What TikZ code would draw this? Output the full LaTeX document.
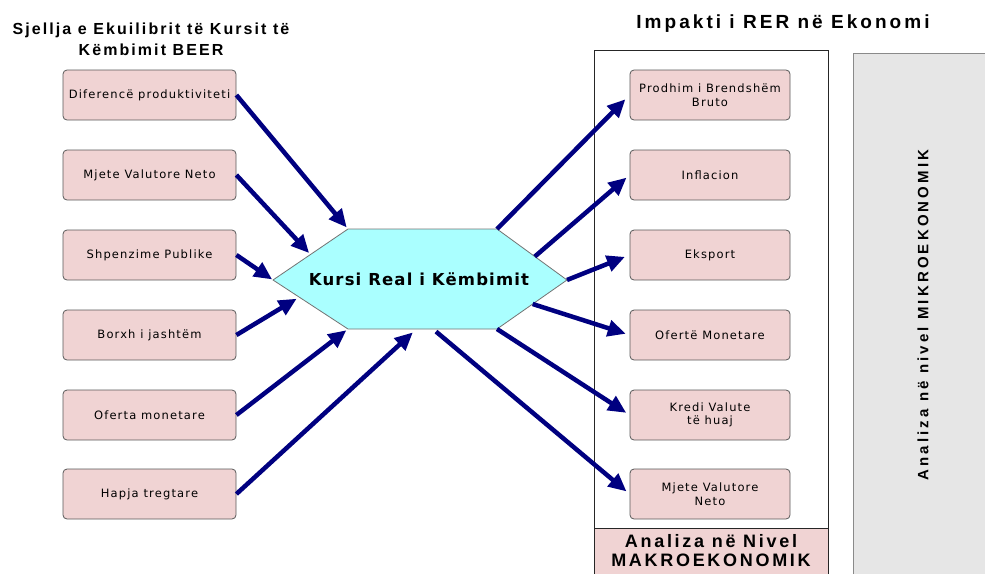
\documentclass[tikz,border=0pt]{standalone}
\usepackage{fontspec}
\setmainfont{Liberation Sans}
\newfontfamily\boxfont{DejaVu Sans}
\usetikzlibrary{arrows.meta, calc, positioning}

\definecolor{boxpink}{RGB}{240,211,211}
\definecolor{hexcyan}{RGB}{170,255,255}
\definecolor{arrowblue}{RGB}{0,0,128}
\definecolor{panelgray}{RGB}{230,230,230}

\tikzset{
  factorbox/.style={draw=black!65, fill=boxpink, rounded corners=4pt, line width=0.8pt,
    minimum height=50pt, inner sep=1pt, align=center,
    font=\boxfont\fontsize{11.5}{13.5}\selectfont\addfontfeature{LetterSpace=10}},
  flowarrow/.style={arrowblue, line width=4.5pt, -{Triangle[length=18pt,width=16pt]}},
  heading/.style={align=center, font=\bfseries\fontsize{16}{21}\selectfont\addfontfeature{LetterSpace=13}}
}

\begin{document}
\begin{tikzpicture}[x=1pt, y=-1pt]
\useasboundingbox (0,0) rectangle (985,573);

% Panels on the right
\draw[panelgray!60!black, fill=panelgray, line width=0.8pt] (853,53) rectangle (995,590);
\draw[black!85, line width=0.8pt] (594,50) rectangle (828,590);
\draw[black!85, fill=boxpink, line width=0.8pt] (594,528) rectangle (828,590);
\node[align=center, inner sep=0pt, font=\bfseries\fontsize{18}{19}\selectfont\addfontfeature{LetterSpace=15}] (makro) at (711,551) {Analiza në Nivel\\MAKROEKONOMIK};
\node[rotate=90, font=\bfseries\fontsize{15}{16}\selectfont\addfontfeature{LetterSpace=21}] (mikro) at (923,315) {Analiza në nivel MIKROEKONOMIK};

% Titles
\node[heading] (beer) at (151,39) {Sjellja e Ekuilibrit të Kursit të\\Këmbimit BEER};
\node[heading, anchor=base, font=\bfseries\fontsize{19}{20}\selectfont\addfontfeature{LetterSpace=16}] (impakti) at (783,28) {Impakti i RER në Ekonomi};

% Hexagon (real exchange rate)
\coordinate (hl) at (273,280);
\coordinate (htl) at (348,229);
\coordinate (htr) at (497,229);
\coordinate (hr) at (567,280);
\coordinate (hbr) at (497,329);
\coordinate (hbl) at (348,329);
\draw[black!55, fill=hexcyan, line width=0.8pt] (hl) -- (htl) -- (htr) -- (hr) -- (hbr) -- (hbl) -- cycle;
\node[anchor=base, font=\boxfont\bfseries\fontsize{16.5}{18}\selectfont\addfontfeature{LetterSpace=7}] (rer) at (419,285) {Kursi Real i Këmbimit};

% Points on the hexagon where arrows meet it
\coordinate (in2) at ($(hl)!0.5!(htl)$);
\coordinate (in4) at ($(hl)!0.35!(hbl)$);
\coordinate (in6) at ($(hbl)!0.46!(hbr)$);
\coordinate (out2) at ($(htr)!0.54!(hr)$);
\coordinate (out4) at ($(hr)!0.49!(hbr)$);
\coordinate (out6) at ($(hbl)!0.57!(hbr)$);

% Left: determinants of BEER
\foreach \name/\y/\txt in {dif/95/Diferencë produktiviteti, mvn/175/Mjete Valutore Neto,
    shp/255/Shpenzime Publike, borxh/335/Borxh i jashtëm, oferta/415/Oferta monetare,
    hapja/494/Hapja tregtare}
  \node[factorbox, minimum width=173pt] (\name) at (149.5,\y) {\txt};

% Right: impact on the economy
\foreach \name/\y/\txt in {gdp/95/{Prodhim i Brendshëm\\Bruto}, infl/175/Inflacion,
    eksp/255/Eksport, ofm/335/Ofertë Monetare, kredi/415/{Kredi Valute\\të huaj},
    mvr/494/{Mjete Valutore\\Neto}}
  \node[factorbox, minimum width=160pt] (\name) at (710,\y) {\txt};

% Arrows into the hexagon
\draw[flowarrow, shorten >=2pt] (dif.east) -- (htl);
\draw[flowarrow, shorten >=2pt] (mvn.east) -- (in2);
\draw[flowarrow, shorten >=1pt] (shp.east) -- (hl);
\draw[flowarrow, shorten >=3pt] (borxh.east) -- (in4);
\draw[flowarrow, shorten >=2pt] (oferta.east) -- (hbl);
\draw[flowarrow, shorten >=5pt] (hapja.east) -- (in6);

% Arrows out of the hexagon
\draw[flowarrow, shorten >=6pt] (htr) -- (gdp.west);
\draw[flowarrow, shorten >=4pt] (out2) -- (infl.west);
\draw[flowarrow, shorten >=5pt] (hr) -- (eksp.west);
\draw[flowarrow, shorten >=4pt] (out4) -- (ofm.west);
\draw[flowarrow, shorten >=4pt] (hbr) -- (kredi.west);
\draw[flowarrow, shorten >=4pt, shorten <=4pt] (out6) -- (mvr.west);
\end{tikzpicture}
\end{document}
